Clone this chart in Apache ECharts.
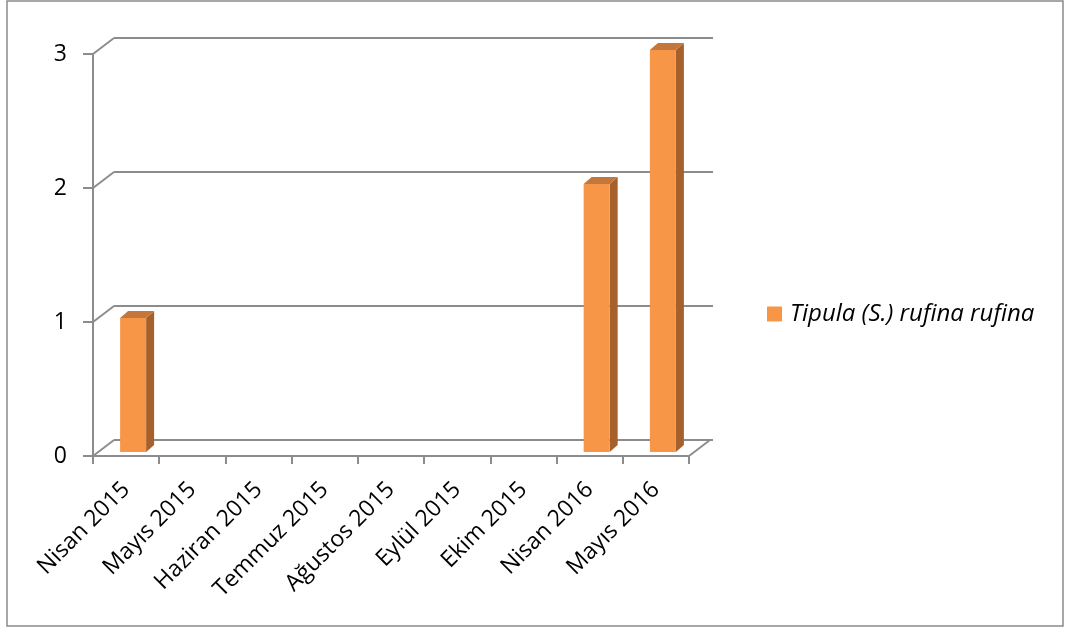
<!DOCTYPE html>
<html>
<head>
<meta charset="utf-8">
<script src="https://cdn.jsdelivr.net/npm/echarts@6/dist/echarts.min.js"></script>
<style>
html,body{margin:0;padding:0;background:#fff;}
#chart{width:1065px;height:630px;}
</style>
</head>
<body>
<div id="chart"></div>
<script>
const categories = ['Nisan 2015','Mayıs 2015','Haziran 2015','Temmuz 2015','Ağustos 2015','Eylül 2015','Ekim 2015','Nisan 2016','Mayıs 2016'];
const seriesName = 'Tipula (S.) rufina rufina';
const values = [1,0,0,0,0,0,0,2,3];
const yTicks = [0,1,2,3];

const FONT = '"Open Sans", sans-serif';
const GRID_COLOR = '#8c8c8c';
const FRONT = '#F79646';
const SIDE = '#A5602B';
const TOP = '#C4773B';
const DX = 21, DY = -16;      // depth offset of back wall
const BDX = 8, BDY = -7;      // bar depth
const BSHIFT_X = 7, BSHIFT_Y = -4, BW = 26;

const chart = echarts.init(document.getElementById('chart'));

const option = {
  animation: false,
  backgroundColor: '#fff',
  graphic: [
    {type:'rect', shape:{x:7,y:1,width:1056,height:625}, style:{fill:'none', stroke:'#8a8a8a', lineWidth:1.5}, z:-10}
  ],
  legend: {
    left: 767, top: 302, padding: 0,
    itemWidth: 15, itemHeight: 15, icon: 'rect',
    data: [{name: seriesName, itemStyle:{color: FRONT}}],
    textStyle: {fontFamily: FONT, fontStyle:'italic', fontSize: 24, color:'#000', padding:[0,0,0,3]}
  },
  grid: [
    {left: 93, top: 54, width: 596, height: 402},
    {left: 114, top: 38, width: 599, height: 402}
  ],
  xAxis: [
    {
      type:'category', gridIndex:0, data: categories,
      axisLine:{show:true, lineStyle:{color:GRID_COLOR, width:2}},
      axisTick:{show:true, length:8, interval:0, lineStyle:{color:GRID_COLOR, width:2}},
      axisLabel:{interval:0, rotate:45, margin:30, fontFamily:FONT, fontSize:23, color:'#000'},
      splitLine:{show:false}
    },
    {type:'category', gridIndex:1, data: categories, show:false}
  ],
  yAxis: [
    {
      type:'value', gridIndex:0, min:0, max:3, interval:1,
      axisLine:{show:true, lineStyle:{color:GRID_COLOR, width:2}},
      axisTick:{show:true, length:10, lineStyle:{color:GRID_COLOR, width:2}},
      axisLabel:{margin:26, fontFamily:FONT, fontSize:23, color:'#000'},
      splitLine:{show:false}
    },
    {
      type:'value', gridIndex:1, min:0, max:3, interval:1,
      axisLine:{show:false}, axisTick:{show:false}, axisLabel:{show:false},
      splitLine:{show:true, lineStyle:{color:GRID_COLOR, width:2}}
    }
  ],
  series: [
    {
      type:'custom', xAxisIndex:0, yAxisIndex:0, silent:true, z:1,
      data: yTicks.map(v => [v]),
      renderItem: function(params, api){
        const v = api.value(0);
        const band = api.size([1,0])[0];
        const p0 = api.coord([0, v]);
        const xl = p0[0] - band/2;
        const children = [{
          type:'line', shape:{x1:xl, y1:p0[1], x2:xl+DX, y2:p0[1]+DY},
          style:{stroke:GRID_COLOR, lineWidth:2}
        }];
        if (v === 0) {
          const pr = api.coord([categories.length-1, 0]);
          const xr = pr[0] + band/2;
          children.push({type:'line', shape:{x1:xr, y1:pr[1], x2:xr+DX, y2:pr[1]+DY},
            style:{stroke:GRID_COLOR, lineWidth:2}});
        }
        return {type:'group', children};
      }
    },
    {
      name: seriesName,
      type:'custom', xAxisIndex:0, yAxisIndex:0, z:5,
      itemStyle:{color: FRONT},
      data: values.map((v,i) => [i, v]),
      renderItem: function(params, api){
        const i = api.value(0), v = api.value(1);
        if (!v) return null;
        const top = api.coord([i, v]);
        const base = api.coord([i, 0]);
        const xl = top[0] - BW/2 + BSHIFT_X;
        const xr = xl + BW;
        const yt = top[1] + BSHIFT_Y;
        const yb = base[1] + BSHIFT_Y;
        return {type:'group', children:[
          {type:'polygon', shape:{points:[[xr,yt],[xr+BDX,yt+BDY],[xr+BDX,yb+BDY],[xr,yb]]}, style:{fill:SIDE}},
          {type:'polygon', shape:{points:[[xl,yt],[xl+BDX,yt+BDY],[xr+BDX,yt+BDY],[xr,yt]]}, style:{fill:TOP}},
          {type:'rect', shape:{x:xl, y:yt, width:BW, height:yb-yt}, style:{fill:FRONT}}
        ]};
      }
    }
  ]
};
chart.setOption(option);
</script>
</body>
</html>
